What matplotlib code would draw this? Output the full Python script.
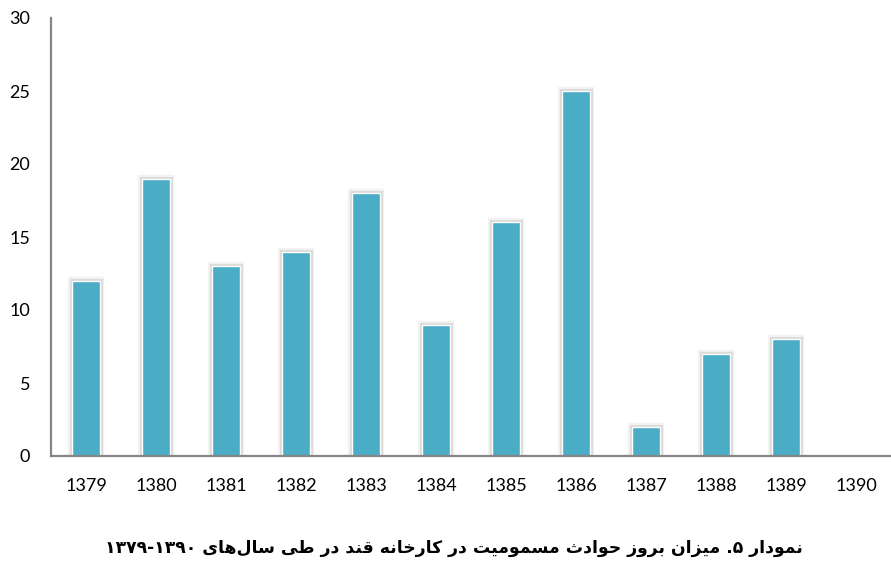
import matplotlib
matplotlib.use("Agg")
import matplotlib.pyplot as plt
import matplotlib.patheffects as pe

# ---------------------------------------------------------
# DATOS
# ---------------------------------------------------------

years = ["1379", "1380", "1381", "1382", "1383", "1384",
         "1385", "1386", "1387", "1388", "1389", "1390"]
cases = [12, 19, 13, 14, 18, 9, 16, 25, 2, 7, 8, 0]
y_ticks = [0, 5, 10, 15, 20, 25, 30]

title_text = "نمودار ۵. میزان بروز حوادث مسمومیت در کارخانه قند در طی سال\u200cهای ۱۳۷۹-۱۳۹۰"

bar_color = "#4BACC6"
axis_color = "#868686"

# ---------------------------------------------------------
# FORMAS ARABES (matplotlib no hace el shaping)
# ---------------------------------------------------------

# isolated, final, initial, medial
dual = {
    "ب": "\uFE8F\uFE90\uFE91\uFE92",
    "ت": "\uFE95\uFE96\uFE97\uFE98",
    "ث": "\uFE99\uFE9A\uFE9B\uFE9C",
    "ح": "\uFEA1\uFEA2\uFEA3\uFEA4",
    "خ": "\uFEA5\uFEA6\uFEA7\uFEA8",
    "س": "\uFEB1\uFEB2\uFEB3\uFEB4",
    "ط": "\uFEC1\uFEC2\uFEC3\uFEC4",
    "ق": "\uFED5\uFED6\uFED7\uFED8",
    "ک": "\uFB8E\uFB8F\uFB90\uFB91",
    "ل": "\uFEDD\uFEDE\uFEDF\uFEE0",
    "م": "\uFEE1\uFEE2\uFEE3\uFEE4",
    "ن": "\uFEE5\uFEE6\uFEE7\uFEE8",
    "ه": "\uFEE9\uFEEA\uFEEB\uFEEC",
    "ی": "\uFBFC\uFBFD\uFBFE\uFBFF",
}
right = {
    "ا": "\uFE8D\uFE8E",
    "د": "\uFEA9\uFEAA",
    "ر": "\uFEAD\uFEAE",
    "ز": "\uFEAF\uFEB0",
    "و": "\uFEED\uFEEE",
}


def joins_next(c):
    return c in dual


def joins_prev(c):
    return c in dual or c in right


def shape_rtl(text):
    out = []
    n = len(text)
    for i, c in enumerate(text):
        if c == "\u200c":
            continue
        prev_c = text[i - 1] if i > 0 else ""
        next_c = text[i + 1] if i < n - 1 else ""
        p = joins_next(prev_c) and joins_prev(c)
        q = joins_next(c) and joins_prev(next_c)
        if c in dual:
            f = dual[c]
            if p and q:
                out.append(f[3])
            elif p:
                out.append(f[1])
            elif q:
                out.append(f[2])
            else:
                out.append(f[0])
        elif c in right:
            f = right[c]
            out.append(f[1] if p else f[0])
        else:
            out.append(c)
    vis = "".join(out)[::-1]
    # los numeros se leen de izquierda a derecha
    res = ""
    run = ""
    for c in vis:
        if "\u06F0" <= c <= "\u06F9" or (c == "-" and run):
            run += c
        else:
            res += run[::-1] + c
            run = ""
    res += run[::-1]
    return res


# ---------------------------------------------------------
# GRAFICA
# ---------------------------------------------------------

fig = plt.figure(figsize=(8.91, 5.61), dpi=100)
ax = fig.add_axes([51 / 891, 105 / 561, 840 / 891, 438 / 561])

x = list(range(len(years)))

barras = ax.bar(
    x,
    cases,
    width=0.4,
    color=bar_color,
    edgecolor="white",
    linewidth=1,
    zorder=3,
    path_effects=[
        pe.Stroke(linewidth=6, foreground="#000000", alpha=0.05),
        pe.Stroke(linewidth=3.5, foreground="#000000", alpha=0.10),
        pe.Normal()
    ]
)

# sin barra para valores cero
for b, v in zip(barras, cases):
    if v == 0:
        b.set_visible(False)

ax.set_xlim(-0.5, len(years) - 0.5)
ax.set_ylim(0, 30)

ax.set_xticks(x)
ax.set_xticklabels(years)
ax.set_yticks(y_ticks)

ax.tick_params(
    axis="both",
    length=0,
    labelsize=13,
    colors="black"
)
ax.tick_params(axis="x", pad=16)
ax.tick_params(axis="y", pad=15)

for lab in ax.get_xticklabels() + ax.get_yticklabels():
    lab.set_fontfamily("Lato")

for side in ["top", "right"]:
    ax.spines[side].set_visible(False)

for side in ["left", "bottom"]:
    ax.spines[side].set_color(axis_color)
    ax.spines[side].set_linewidth(1.6)
    ax.spines[side].set_zorder(4)

fig.text(
    454 / 891,
    1 - 548 / 561,
    shape_rtl(title_text),
    ha="center",
    va="center",
    fontsize=12.4,
    fontweight="bold",
    family=["DejaVu Sans"]
)

plt.savefig("out.png", dpi=100)
plt.close()
